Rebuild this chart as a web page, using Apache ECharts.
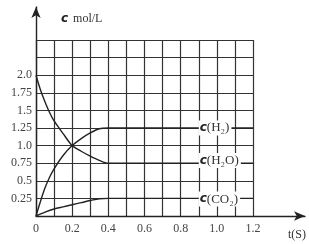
<!DOCTYPE html>
<html>
<head>
<meta charset="utf-8">
<script src="https://cdn.jsdelivr.net/npm/echarts@6/dist/echarts.min.js"></script>
<style>
  html, body { margin: 0; padding: 0; background: #fff; }
  #chart { width: 309px; height: 244px; }
</style>
</head>
<body>
<div id="chart"></div>
<script>
// 浓度随时间变化 (t, c)
var h2oData = [[0, 2.0], [0.025, 1.79], [0.05, 1.62], [0.075, 1.47], [0.1, 1.35], [0.15, 1.17], [0.2, 1.0], [0.25, 0.92], [0.3, 0.85], [0.35, 0.79], [0.4, 0.75], [0.5, 0.75], [0.6, 0.75], [0.7, 0.75], [0.8, 0.75], [0.9, 0.75], [1.0, 0.75], [1.1, 0.75], [1.2, 0.75]];
var h2Data = [[0, 0], [0.025, 0.21], [0.05, 0.4], [0.075, 0.55], [0.1, 0.67], [0.15, 0.86], [0.2, 1.0], [0.25, 1.1], [0.3, 1.18], [0.35, 1.24], [0.4, 1.25], [0.5, 1.25], [0.6, 1.25], [0.7, 1.25], [0.8, 1.25], [0.9, 1.25], [1.0, 1.25], [1.1, 1.25], [1.2, 1.25]];
var co2Data = [[0, 0], [0.05, 0.055], [0.1, 0.1], [0.15, 0.13], [0.2, 0.16], [0.25, 0.19], [0.3, 0.22], [0.35, 0.245], [0.4, 0.25], [0.5, 0.25], [0.6, 0.25], [0.7, 0.25], [0.8, 0.25], [0.9, 0.25], [1.0, 0.25], [1.1, 0.25], [1.2, 0.25]];
var yTickLabels = { 25: '0.25', 50: '0.5', 75: '0.75', 100: '1.0', 125: '1.25', 150: '1.5', 175: '1.75', 200: '2.0' };
var xTickLabels = { 0: '0', 2: '0.2', 4: '0.4', 6: '0.6', 8: '0.8', 10: '1.0', 12: '1.2' };
var seriesNames = ['H₂', 'H₂O', 'CO₂'];

var serif = "'Liberation Serif', 'DejaVu Serif', serif";
var lineColor = '#333';

function curveLabel(txt) {
  return {
    show: true,
    position: 'right',
    distance: 0,
    formatter: '{c|c}{n|(' + txt + ')}',
    backgroundColor: '#fff',
    padding: [1, 2, 1, 1],
    rich: {
      c: { fontFamily: "'DejaVu Sans', sans-serif", fontWeight: 'bold', fontStyle: 'italic', fontSize: 12, color: '#222' },
      n: { fontFamily: serif, fontSize: 13, color: '#333' }
    }
  };
}

function makeSeries(data, name, labelY) {
  return {
    type: 'line',
    name: name,
    xAxisIndex: 0,
    yAxisIndex: 0,
    data: data,
    smooth: 0.3,
    showSymbol: false,
    lineStyle: { color: '#222', width: 1.4 },
    z: 3,
    markPoint: {
      symbol: 'circle',
      symbolSize: 0,
      label: curveLabel(name),
      data: [{ coord: [0.9, labelY] }],
      z: 5
    }
  };
}

var myChart = echarts.init(document.getElementById('chart'));
var option = {
  animation: false,
  title: [
    {
      text: '{c|c} {n|mol/L}',
      left: 56,
      top: 5,
      textStyle: {
        fontWeight: 'normal',
        rich: {
          c: { fontFamily: "'DejaVu Sans', sans-serif", fontWeight: 'bold', fontStyle: 'italic', fontSize: 12, color: '#222' },
          n: { fontFamily: serif, fontSize: 12, fontWeight: 'normal', color: '#333' }
        }
      }
    },
    {
      text: 't(S)',
      left: 283,
      top: 224,
      textStyle: { fontFamily: serif, fontSize: 12, fontWeight: 'normal', color: '#333' }
    }
  ],
  grid: [
    { left: 36, right: 56, top: 40, bottom: 28 },
    { left: 36, right: 4, top: 7, bottom: 28 }
  ],
  xAxis: [
    {
      type: 'value', gridIndex: 0, min: 0, max: 1.2, interval: 0.1,
      axisLine: { show: false },
      axisTick: { show: false },
      splitLine: { show: true, lineStyle: { color: lineColor, width: 1.2 } },
      axisLabel: {
        margin: 7,
        fontFamily: serif, fontSize: 12, color: '#444',
        showMinLabel: true, showMaxLabel: true,
        formatter: function (v) { return xTickLabels[Math.round(v * 10)] || ''; }
      }
    },
    {
      type: 'value', gridIndex: 1, min: 0, max: 1,
      axisLine: { show: true, symbol: ['none', 'arrow'], symbolSize: [7, 11], lineStyle: { color: '#222', width: 1.4 } },
      axisTick: { show: false }, axisLabel: { show: false }, splitLine: { show: false }
    }
  ],
  yAxis: [
    {
      type: 'value', gridIndex: 0, min: 0, max: 2.5, interval: 0.25,
      axisLine: { show: false },
      axisTick: { show: false },
      splitLine: { show: true, lineStyle: { color: lineColor, width: 1.2 } },
      axisLabel: {
        margin: 4,
        fontFamily: serif, fontSize: 12, color: '#444',
        formatter: function (v) { return yTickLabels[Math.round(v * 100)] || ''; }
      }
    },
    {
      type: 'value', gridIndex: 1, min: 0, max: 1,
      axisLine: { show: true, symbol: ['none', 'arrow'], symbolSize: [7, 11], lineStyle: { color: '#222', width: 1.4 } },
      axisTick: { show: false }, axisLabel: { show: false }, splitLine: { show: false }
    }
  ],
  series: [
    makeSeries(h2Data, seriesNames[0], 1.25),
    makeSeries(h2oData, seriesNames[1], 0.79),
    makeSeries(co2Data, seriesNames[2], 0.24)
  ]
};
myChart.setOption(option);
</script>
</body>
</html>
